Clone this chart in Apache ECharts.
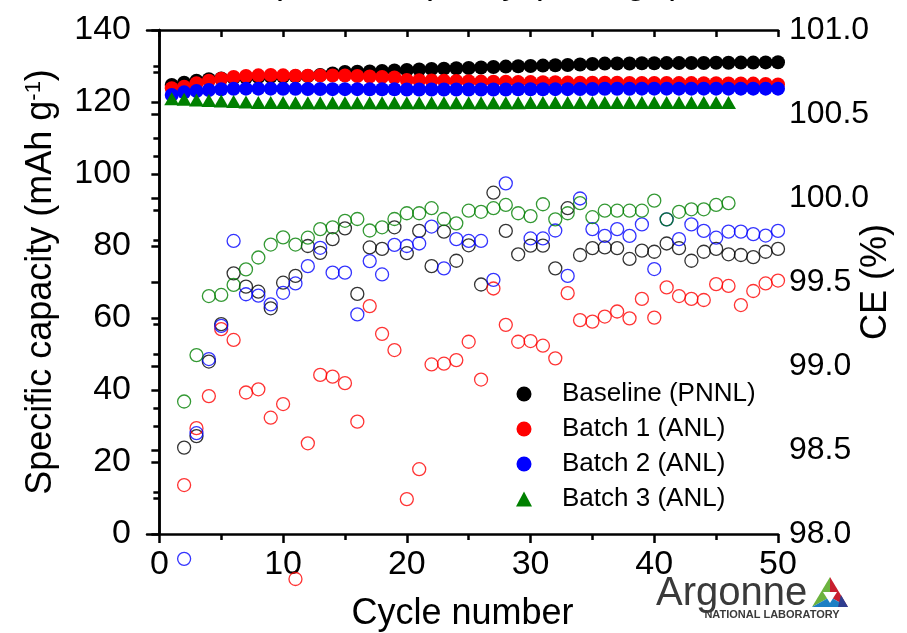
<!DOCTYPE html>
<html>
<head>
<meta charset="utf-8">
<script src="https://cdn.jsdelivr.net/npm/echarts@6/dist/echarts.min.js"></script>
<style>
html,body{margin:0;padding:0;background:#fff;}
#chart{width:907px;height:633px;}
</style>
</head>
<body>
<div id="chart"></div>
<script>
// ---- data ----
const cycles = [1,2,3,4,5,6,7,8,9,10,11,12,13,14,15,16,17,18,19,20,21,22,23,24,25,26,27,28,29,30,31,32,33,34,35,36,37,38,39,40,41,42,43,44,45,46,47,48,49,50];
const capCycles = [2,3,4,5,6,7,8,9,10,11,12,13,14,15,16,17,18,19,20,21,22,23,24,25,26,27,28,29,30,31,32,33,34,35,36,37,38,39,40,41,42,43,44,45,46,47,48,49,50];
const seriesNames = ['Baseline (PNNL)', 'Batch 1 (ANL)', 'Batch 2 (ANL)', 'Batch 3 (ANL)'];
const seriesColors = ['#000000', '#ff0000', '#0000ff', '#008000'];
const xTickLabels = [0, 10, 20, 30, 40, 50];
const xMinorTicks = [5, 15, 25, 35, 45];
const xTopTicks = [0, 5, 10, 15, 20, 25, 30, 35, 40, 45, 50];

// Coulombic efficiency (%), right axis, filled markers
const ceBaseline = [100.673,100.686,100.698,100.707,100.711,100.714,100.717,100.720,100.721,100.722,
  100.724,100.726,100.732,100.741,100.750,100.752,100.753,100.756,100.759,100.762,
  100.765,100.768,100.770,100.772,100.774,100.777,100.780,100.782,100.784,100.786,
  100.788,100.790,100.792,100.795,100.798,100.800,100.801,100.801,100.802,100.802,
  100.803,100.803,100.804,100.804,100.805,100.805,100.806,100.806,100.807,100.808];
const ceBatch1 = [100.653,100.662,100.683,100.698,100.710,100.720,100.726,100.730,100.732,100.730,
  100.728,100.728,100.729,100.729,100.729,100.726,100.723,100.720,100.717,100.702,
  100.701,100.699,100.698,100.696,100.695,100.693,100.692,100.692,100.690,100.690,
  100.689,100.689,100.687,100.686,100.686,100.686,100.686,100.685,100.685,100.685,
  100.685,100.684,100.684,100.683,100.683,100.682,100.682,100.681,100.679,100.676];
const ceBatch2 = [100.613,100.629,100.637,100.643,100.647,100.650,100.651,100.651,100.651,100.650,
  100.650,100.649,100.649,100.648,100.648,100.648,100.647,100.647,100.647,100.646,
  100.646,100.646,100.646,100.646,100.646,100.646,100.646,100.646,100.647,100.647,
  100.647,100.648,100.648,100.649,100.649,100.650,100.650,100.650,100.651,100.651,
  100.651,100.651,100.651,100.651,100.651,100.651,100.651,100.651,100.651,100.651];
const ceBatch3 = [100.591,100.588,100.583,100.580,100.577,100.574,100.571,100.569,100.568,100.568,
  100.567,100.567,100.567,100.567,100.567,100.567,100.567,100.567,100.567,100.567,
  100.567,100.567,100.567,100.567,100.567,100.567,100.567,100.567,100.567,100.568,
  100.568,100.568,100.568,100.569,100.569,100.569,100.569,100.569,100.569,100.569,
  100.569,100.569,100.569,100.569,100.569,100.569];

// Specific capacity (mAh g-1), left axis, open markers (cycles 2..50)
const capBaseline = [24.0,27.2,47.9,58.3,72.4,68.7,67.3,62.7,69.8,71.7,80.0,78.1,81.9,84.9,66.7,79.6,79.2,85.2,78.0,84.2,
  74.4,84.0,75.9,80.2,69.3,94.8,84.2,77.7,80.1,80.1,73.8,90.5,77.5,79.4,79.6,79.4,76.4,78.7,78.4,80.7,
  79.4,75.9,78.4,79.2,77.7,77.5,76.9,78.4,79.2];
const capBatch1 = [13.6,29.4,38.3,56.9,53.9,39.3,40.2,32.3,36.1,-12.5,25.2,44.2,43.7,41.9,31.2,63.3,55.6,51.1,9.7,18.0,
  47.1,47.3,48.3,53.4,42.9,68.2,58.1,53.4,53.6,52.3,48.8,66.9,59.4,59.0,60.4,61.8,59.9,65.3,60.1,68.5,
  66.1,65.3,65.0,69.4,68.9,63.6,67.5,69.6,70.4];
const capBatch2 = [-6.9,28.0,48.6,57.8,81.4,66.6,66.2,63.8,67.0,69.6,74.4,79.5,72.6,72.6,61.0,75.8,72.1,80.3,80.0,80.7,
  85.4,73.8,81.9,81.4,81.4,70.6,97.4,null,82.1,82.1,84.3,71.7,93.2,84.7,82.8,84.7,82.8,86.0,73.6,87.4,
  81.9,86.0,84.2,82.3,84.0,84.0,83.3,82.9,84.2];
const capBatch3 = [36.8,49.7,66.1,66.4,69.2,73.5,76.8,80.4,82.4,80.4,82.3,84.7,85.2,87.0,87.5,84.3,85.2,87.5,89.1,89.1,
  90.5,87.5,86.3,89.8,89.5,90.5,91.4,89.1,88.3,91.6,87.4,89.1,91.9,88.0,89.8,89.8,89.8,89.8,92.6,87.4,
  89.5,90.2,90.2,91.4,91.9];

// ---- chart ----
const FONT = "'Liberation Sans', Arial, sans-serif";
const chart = echarts.init(document.getElementById('chart'), null, {renderer: 'canvas'});

function pairs(xs, ys) {
  return ys.map((v, i) => [xs[i], v === null ? '-' : v]);
}
const capData = [capBaseline, capBatch1, capBatch2, capBatch3];
const ceData = [ceBaseline, ceBatch1, ceBatch2, ceBatch3];

const series = [];
capData.forEach((arr, k) => {
  series.push({
    name: 'cap-' + seriesNames[k],
    type: 'scatter',
    xAxisIndex: 0, yAxisIndex: 0,
    clip: false,
    symbol: 'circle',
    symbolSize: 13,
    itemStyle: {color: 'rgba(0,0,0,0)', borderColor: seriesColors[k], borderWidth: 1.3},
    data: pairs(capCycles, arr),
    z: 2
  });
});
ceData.forEach((arr, k) => {
  series.push({
    name: seriesNames[k],
    type: 'scatter',
    xAxisIndex: 0, yAxisIndex: 1,
    clip: false,
    symbol: k === 3 ? 'triangle' : 'circle',
    symbolSize: k === 3 ? [15, 13] : 14,
    itemStyle: {color: seriesColors[k], opacity: 1},
    data: pairs(cycles, arr),
    z: 3
  });
});

const axisLine = {show: true, lineStyle: {color: '#000', width: 2.5}};
const option = {
  animation: false,
  backgroundColor: '#fff',
  grid: {left: 147, right: 129, top: 30, bottom: 99, containLabel: false, outerBoundsMode: 'none'},
  xAxis: [
    {
      type: 'value', position: 'bottom', min: -1, max: 50,
      axisLine: axisLine,
      axisTick: {show: true, customValues: xTickLabels, length: 9, inside: false, lineStyle: {color: '#000', width: 2.5}},
      axisLabel: {show: true, customValues: xTickLabels, fontSize: 34, fontFamily: FONT, color: '#000', margin: 14},
      splitLine: {show: false},
      name: 'Cycle number', nameLocation: 'middle', nameGap: 62, nameMoveOverlap: false,
      nameTextStyle: {fontSize: 36, fontFamily: FONT, color: '#000'}
    },
    {
      type: 'value', position: 'bottom', min: -1, max: 50,
      axisLine: {show: false},
      axisTick: {show: true, customValues: xMinorTicks, length: 6, inside: false, lineStyle: {color: '#000', width: 2.5}},
      axisLabel: {show: false},
      splitLine: {show: false}
    },
    {
      type: 'value', position: 'top', min: -1, max: 50,
      axisLine: axisLine,
      axisTick: {show: true, customValues: xTopTicks, length: 7, inside: true, lineStyle: {color: '#000', width: 2.5}},
      axisLabel: {show: false},
      splitLine: {show: false}
    }
  ],
  yAxis: [
    {
      type: 'value', position: 'left', min: 0, max: 140, interval: 20,
      axisLine: axisLine,
      axisTick: {show: true, length: 8, inside: false, lineStyle: {color: '#000', width: 2.5}},
      minorTick: {show: true, splitNumber: 2, length: 6, lineStyle: {color: '#000', width: 2.5}},
      axisLabel: {fontSize: 34, fontFamily: FONT, color: '#000', margin: 16},
      splitLine: {show: false},
      name: 'Specific capacity (mAh g{sup|-1})', nameLocation: 'middle', nameRotate: 90, nameGap: 88,
      nameMoveOverlap: false,
      nameTextStyle: {fontSize: 36, fontFamily: FONT, color: '#000',
        rich: {sup: {fontSize: 22, fontFamily: FONT, color: '#000', verticalAlign: 'top', lineHeight: 22}}}
    },
    {
      type: 'value', position: 'right', min: 98, max: 101, interval: 0.5,
      axisLine: axisLine,
      axisTick: {show: true, length: 8, inside: true, lineStyle: {color: '#000', width: 2.5}},
      minorTick: {show: true, splitNumber: 2, length: 6, lineStyle: {color: '#000', width: 2.5}},
      axisLabel: {fontSize: 32, fontFamily: FONT, color: '#000', margin: 11, formatter: v => v.toFixed(1)},
      splitLine: {show: false},
      name: 'CE (%)', nameLocation: 'middle', nameRotate: 90, nameGap: 80, nameMoveOverlap: false,
      nameTextStyle: {fontSize: 36, fontFamily: FONT, color: '#000'}
    }
  ],
  legend: {
    orient: 'vertical', left: 511, top: 376,
    itemWidth: 16, itemHeight: 15, itemGap: 9,
    textStyle: {fontSize: 26, fontFamily: FONT, color: '#000', lineHeight: 25, padding: [0, 0, 0, 25]},
    data: [
      {name: seriesNames[0], icon: 'circle'},
      {name: seriesNames[1], icon: 'circle'},
      {name: seriesNames[2], icon: 'circle'},
      {name: seriesNames[3], icon: 'triangle'}
    ]
  },
  graphic: [
    {type: 'text', x: 467, y: -17, silent: true, z: 100,
      style: {text: 'Specific capacity (mAh g⁻¹)', font: '36px ' + FONT, fill: '#000', align: 'center', verticalAlign: 'middle'}},
    {type: 'text', x: 656, y: 594, silent: true,
      style: {text: 'Argonne', font: '40px ' + FONT, fill: '#3a3a3a', align: 'left', verticalAlign: 'middle'}},
    {type: 'text', x: 772, y: 615, silent: true,
      style: {text: 'NATIONAL LABORATORY', font: 'bold 11px ' + FONT, fill: '#3a3a3a', align: 'center', verticalAlign: 'middle'}},
    {type: 'polygon', silent: true, shape: {points: [[830,577],[812,607],[830,597]]}, style: {fill: '#6cb33f'}},
    {type: 'polygon', silent: true, shape: {points: [[830,577],[848,607],[830,597]]}, style: {fill: '#c8202f'}},
    {type: 'polygon', silent: true, shape: {points: [[812,607],[848,607],[830,597]]}, style: {fill: '#1c7fc4'}},
    {type: 'polygon', silent: true, shape: {points: [[848,607],[838,607],[841,595]]}, style: {fill: '#2e3d8f'}},
    {type: 'polygon', silent: true, shape: {points: [[823,592],[837,592],[830,603]]}, style: {fill: '#ffffff'}}
  ],
  series: series
};
chart.setOption(option);
</script>
</body>
</html>
